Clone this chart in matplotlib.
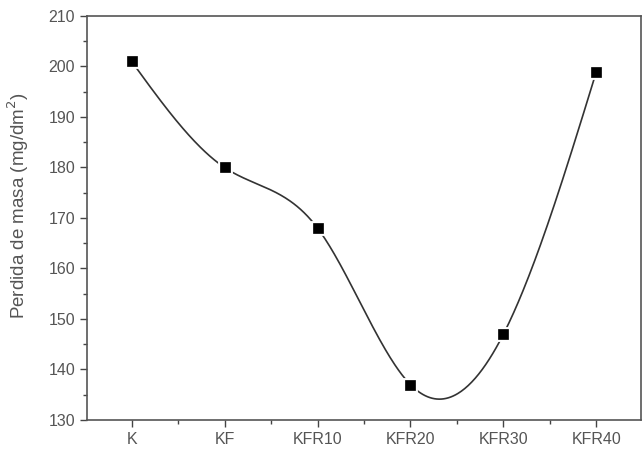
import numpy as np
import matplotlib
matplotlib.use("Agg")
import matplotlib.pyplot as plt
from matplotlib.ticker import MultipleLocator

categories = ["K", "KF", "KFR10", "KFR20", "KFR30", "KFR40"]
perdida = [201, 180, 168, 137, 147, 199]


def natural_spline(x, y, xs):
    # natural cubic spline, no scipy needed
    x = np.asarray(x, float)
    y = np.asarray(y, float)
    n = len(x)
    h = np.diff(x)
    A = np.zeros((n, n))
    b = np.zeros(n)
    A[0, 0] = A[-1, -1] = 1
    for i in range(1, n - 1):
        A[i, i - 1] = h[i - 1]
        A[i, i] = 2 * (h[i - 1] + h[i])
        A[i, i + 1] = h[i]
        b[i] = 3 * ((y[i + 1] - y[i]) / h[i] - (y[i] - y[i - 1]) / h[i - 1])
    c = np.linalg.solve(A, b)
    idx = np.clip(np.searchsorted(x, xs) - 1, 0, n - 2)
    dx = xs - x[idx]
    bb = (y[idx + 1] - y[idx]) / h[idx] - h[idx] * (2 * c[idx] + c[idx + 1]) / 3
    d = (c[idx + 1] - c[idx]) / (3 * h[idx])
    return y[idx] + bb * dx + c[idx] * dx ** 2 + d * dx ** 3


plt.rcParams['font.family'] = ['Liberation Sans', 'DejaVu Sans']

fig = plt.figure(figsize=(6.43, 4.5), dpi=100)
ax = fig.add_axes([87 / 643, 1 - 420 / 450, 554 / 643, 404 / 450])

xpos = np.arange(1, len(categories) + 1)
xs = np.linspace(xpos[0], xpos[-1], 400)
ax.plot(xs, natural_spline(xpos, perdida, xs), color='#333333', lw=1.2, zorder=2)
ax.plot(xpos, perdida, 's', color='black', ms=7.5, mec='white', mew=3.5, zorder=3)
ax.plot(xpos, perdida, 's', color='black', ms=7.5, mec='black', mew=0.5, zorder=4)

ax.set_xlim(0.52, 6.48)
ax.set_ylim(130, 210)
ax.set_xticks(xpos)
ax.set_xticklabels(categories)
ax.xaxis.set_minor_locator(MultipleLocator(0.5))
ax.yaxis.set_major_locator(MultipleLocator(10))
ax.yaxis.set_minor_locator(MultipleLocator(5))
ax.tick_params(which='both', direction='out', top=False, right=False,
               colors='#444444', labelcolor='#555555', labelsize=11.5)
ax.tick_params(which='major', length=5, width=1)
ax.tick_params(which='minor', length=3, width=1)
for s in ax.spines.values():
    s.set_color('#555555')
    s.set_linewidth(1.2)

# y label sits a bit above the axis centre, as in the original
fig.text(18 / 643, 1 - 206 / 450, 'Perdida de masa (mg/dm$^2$)', rotation=90,
         ha='center', va='center', color='#555555', fontsize=13.5)

fig.savefig('out.png', dpi=100)
